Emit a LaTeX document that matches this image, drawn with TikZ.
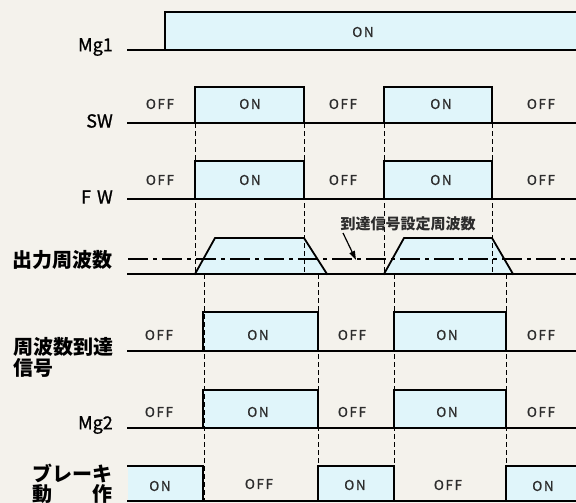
\documentclass[tikz,border=0pt]{standalone}
\usepackage{fontspec}
\setmainfont{Noto Sans CJK JP}
\usetikzlibrary{arrows.meta,calc}
\definecolor{bg}{RGB}{244,242,236}
\definecolor{oncol}{RGB}{224,245,250}
\definecolor{txt}{RGB}{45,45,45}
\tikzset{
  sig/.style={line width=1.8pt, line join=miter, line cap=rect},
  guide/.style={line width=0.9pt, dash pattern=on 5pt off 3pt},
  refline/.style={line width=1.1pt, dash pattern=on 20pt off 5pt on 4pt off 5pt},
  stlab/.style={font=\fontsize{13.5}{15}\selectfont\addfontfeature{LetterSpace=12,FakeBold=0.8}, text=txt, inner sep=0pt},
  rowlab/.style={font=\fontsize{18}{20}\selectfont\addfontfeature{FakeBold=1}, anchor=east, inner sep=0pt},
  cjklab/.style={font=\bfseries\fontsize{20}{21}\selectfont, inner sep=0pt},
  pointer/.style={draw=black, line width=1.2pt},
}
\begin{document}
\begin{tikzpicture}[x=1pt,y=-1pt]
\useasboundingbox (0,0) rectangle (576,503);
\fill[bg] (0,0) rectangle (576,503);

% ---- fills ----
\fill[oncol] (165,12) rectangle (576,50);
\foreach \a/\b in {195/304,384/492}{
  \fill[oncol] (\a,87) rectangle (\b,123);
  \fill[oncol] (\a,161) rectangle (\b,199);
}
\fill[oncol] (195,274) -- (215,238) -- (304,238) -- (327,274) -- cycle;
\fill[oncol] (384,274) -- (404,238) -- (492,238) -- (513,274) -- cycle;
\foreach \a/\b in {203/318,394/506}{
  \fill[oncol] (\a,312) rectangle (\b,351);
  \fill[oncol] (\a,390) rectangle (\b,428);
}
\foreach \a/\b in {128/203,318/394,506/576}{
  \fill[oncol] (\a,466) rectangle (\b,501);
}

% ---- guides ----
\foreach \x in {195,304,384,492}{
  \draw[guide] (\x,123) -- (\x,274);
}
\foreach \x in {204,318,394,506}{
  \draw[guide] (\x,274) -- (\x,501);
}
\draw[refline] (128,259) -- (576,259);

% ---- signals ----
% Mg1
\draw[sig] (128,50) -- (576,50);
\draw[sig] (165,50) -- (165,12) -- (576,12);
% SW, FW
\foreach \bl/\hi in {123/87,199/161}{
  \draw[sig] (128,\bl) -- (576,\bl);
  \foreach \a/\b in {195/304,384/492}{
    \draw[sig] (\a,\bl) -- (\a,\hi) -- (\b,\hi) -- (\b,\bl);
  }
}
% output frequency
\draw[sig] (128,274) -- (576,274);
\draw[sig] (195,274) -- (215,238) -- (304,238) -- (327,274);
\draw[sig] (384,274) -- (404,238) -- (492,238) -- (513,274);
% arrival signal, Mg2
\foreach \bl/\hi in {351/312,428/390}{
  \draw[sig] (128,\bl) -- (576,\bl);
  \foreach \a/\b in {203/318,394/506}{
    \draw[sig] (\a,\bl) -- (\a,\hi) -- (\b,\hi) -- (\b,\bl);
  }
}
% brake
\draw[sig] (128,501) -- (576,501);
\draw[sig] (128,466) -- (203,466) -- (203,501);
\draw[sig] (318,501) -- (318,466) -- (394,466) -- (394,501);
\draw[sig] (506,501) -- (506,466) -- (576,466);

% ---- state labels ----
\node[stlab] (mg1on) at (363,32) {ON};
\foreach \y/\r in {104/sw,180/fw}{
  \node[stlab] (\r1) at (160,\y) {OFF};
  \node[stlab] (\r2) at (250,\y) {ON};
  \node[stlab] (\r3) at (343,\y) {OFF};
  \node[stlab] (\r4) at (441,\y) {ON};
  \node[stlab] (\r5) at (541,\y) {OFF};
}
\foreach \y/\r in {335/ar,412/mgb}{
  \node[stlab] (\r1) at (159,\y) {OFF};
  \node[stlab] (\r2) at (258,\y) {ON};
  \node[stlab] (\r3) at (352,\y) {OFF};
  \node[stlab] (\r4) at (447,\y) {ON};
  \node[stlab] (\r5) at (541,\y) {OFF};
}
\node[stlab] (br1) at (160,486) {ON};
\node[stlab] (br2) at (259,484) {OFF};
\node[stlab] (br3) at (355,485) {ON};
\node[stlab] (br4) at (448,485) {OFF};
\node[stlab] (br5) at (543,486) {ON};

% ---- row labels ----
\node[rowlab] (lmg1) at (113,47) {Mg1};
\node[rowlab] (lsw) at (113,121) {SW};
\node[rowlab] (lfw) at (113,197) {F\,\,W};
\node[cjklab, anchor=east] (lfreq) at (113,260) {出力周波数};
\node[cjklab, anchor=west] (larr1) at (13,347) {周波数到達};
\node[cjklab, anchor=west] (larr2) at (13,368) {信号};
\node[rowlab] (lmg2) at (113,425) {Mg2};
\node[cjklab, anchor=east] (lbr1) at (113,473) {ブレーキ};
\node[cjklab, anchor=east] (lbr2) at (113,494) {動\hspace{2em}作};

% ---- annotation ----
\node[font=\bfseries\fontsize{15}{16}\selectfont, text=txt, inner sep=0pt] (setf) at (408,224) {到達信号設定周波数};
\coordinate (astart) at (343,233);
\coordinate (atip) at (356,260);
\coordinate (abase) at ($(atip)!9pt!(astart)$);
\path[pointer] (astart) -- (abase);
\fill[black] (atip) -- ($(abase)!3pt!90:(atip)$) -- ($(abase)!3pt!-90:(atip)$) -- cycle;
\end{tikzpicture}
\end{document}
